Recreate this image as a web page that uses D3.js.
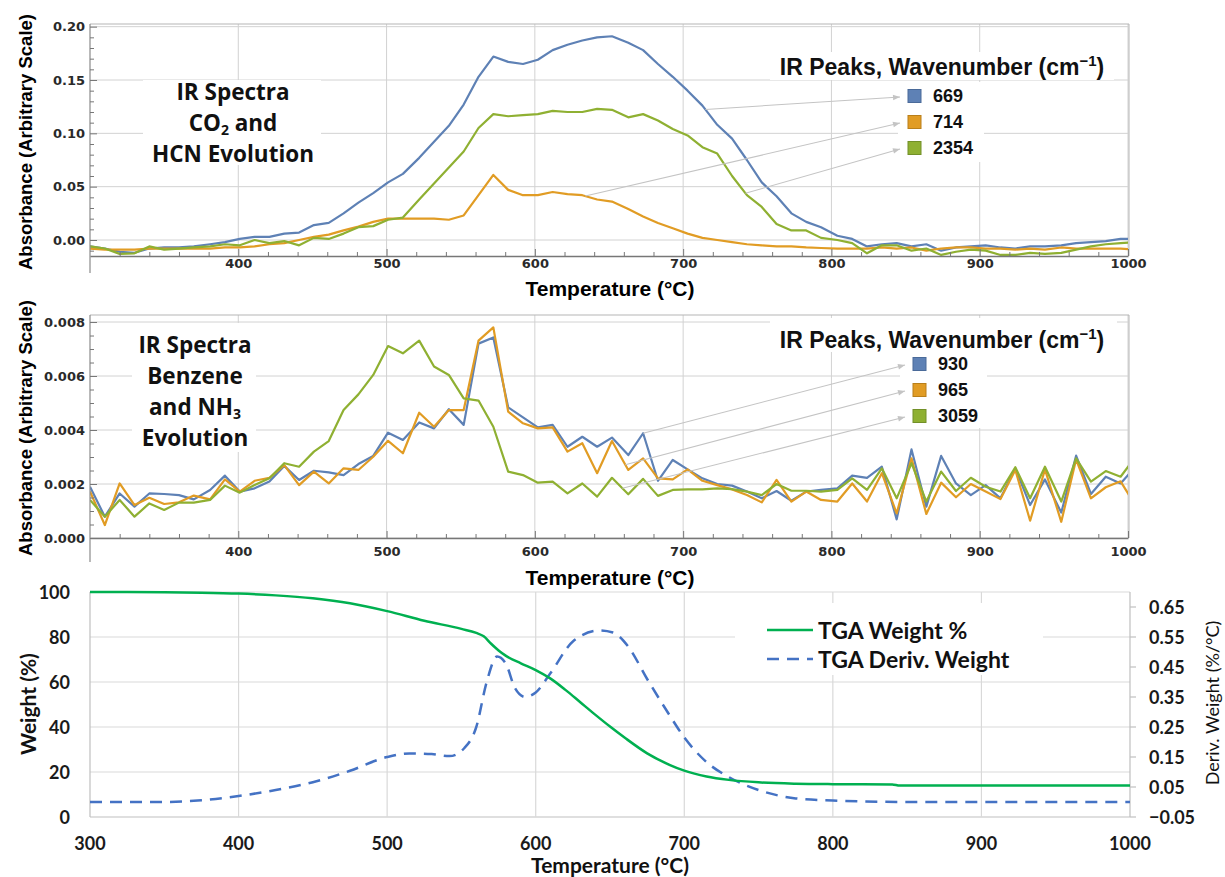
<!DOCTYPE html>
<html>
<head>
<meta charset="utf-8">
<script src="https://cdn.jsdelivr.net/npm/d3@7"></script>
<style>
  body { margin: 0; background: #fff; }
  .mtick text { font-family: 'DejaVu Sans', Verdana, sans-serif; font-weight: bold; font-size: 13px; fill: #2a2a2a; }
  .mtick line, .mtick path { stroke: #777; }
</style>
</head>
<body>
<div id="vis"></div>
<script>
// ---------- data ----------
// IR sampling temperatures (°C), shared by both IR panels
const irTemps = [300,310,320,330,340,350,360,370,381,391,401,411,421,431,441,451,461,471,481,491,
  501,511,522,532,542,552,562,572,582,592,602,612,622,632,642,652,663,673,683,693,
  703,713,723,733,743,753,763,773,783,793,804,814,824,834,844,854,864,874,884,894,
  904,914,924,934,944,955,965,975,985,995,1005];

// CO2 / HCN panel, absorbance
const ir669 = [-0.006,-0.008,-0.011,-0.012,-0.008,-0.007,-0.007,-0.006,-0.004,-0.002,
  0.001,0.003,0.003,0.006,0.007,0.014,0.016,0.025,0.035,0.044,
  0.054,0.062,0.077,0.092,0.107,0.127,0.153,0.172,0.167,0.165,
  0.169,0.178,0.183,0.187,0.190,0.191,0.185,0.178,0.165,0.153,
  0.140,0.126,0.108,0.095,0.075,0.054,0.041,0.025,0.017,0.012,
  0.004,0.001,-0.006,-0.004,-0.003,-0.006,-0.004,-0.010,-0.007,-0.006,
  -0.005,-0.007,-0.008,-0.006,-0.006,-0.005,-0.003,-0.002,-0.001,0.001,0.001];
const ir714 = [-0.008,-0.009,-0.009,-0.009,-0.008,-0.008,-0.008,-0.008,-0.008,-0.007,
  -0.007,-0.006,-0.004,-0.003,0.000,0.003,0.005,0.009,0.0125,0.017,
  0.020,0.020,0.020,0.020,0.019,0.023,0.042,0.061,0.047,0.042,
  0.042,0.045,0.043,0.042,0.038,0.036,0.029,0.022,0.016,0.011,
  0.006,0.002,0.000,-0.002,-0.004,-0.005,-0.006,-0.006,-0.007,-0.0075,
  -0.008,-0.008,-0.008,-0.007,-0.008,-0.007,-0.010,-0.008,-0.007,-0.007,
  -0.008,-0.008,-0.009,-0.008,-0.009,-0.007,-0.008,-0.008,-0.008,-0.008,-0.009];
const ir2354 = [-0.006,-0.008,-0.013,-0.0125,-0.006,-0.009,-0.008,-0.007,-0.006,-0.004,
  -0.005,0.000,-0.003,-0.001,-0.005,0.002,0.001,0.006,0.012,0.013,
  0.019,0.021,0.038,0.053,0.068,0.083,0.105,0.118,0.116,0.117,
  0.118,0.121,0.120,0.120,0.123,0.122,0.115,0.118,0.112,0.104,
  0.098,0.087,0.081,0.060,0.042,0.031,0.015,0.009,0.009,0.002,
  0.000,-0.003,-0.0125,-0.005,-0.005,-0.010,-0.008,-0.014,-0.011,-0.009,
  -0.010,-0.014,-0.014,-0.012,-0.013,-0.012,-0.009,-0.006,-0.004,-0.003,-0.002];

// Benzene / NH3 panel, absorbance
const ir930 = [0.00190,0.00079,0.00165,0.00116,0.00165,0.00163,0.00159,0.00143,0.00178,0.00231,
  0.00172,0.00184,0.00209,0.00267,0.00215,0.00249,0.00243,0.00233,0.00274,0.00304,
  0.00390,0.00363,0.00428,0.00406,0.00477,0.00419,0.00720,0.00743,0.00484,0.00447,
  0.00410,0.00419,0.00338,0.00375,0.00338,0.00372,0.00307,0.00388,0.00212,0.00289,
  0.00254,0.00221,0.00200,0.00194,0.00172,0.00147,0.00174,0.00138,0.00172,0.00178,
  0.00184,0.00231,0.00223,0.00264,0.00069,0.00328,0.00116,0.00304,0.00202,0.00159,
  0.00196,0.00147,0.00258,0.00122,0.00217,0.00094,0.00305,0.00163,0.00227,0.00202,0.00264];
const ir965 = [0.00172,0.00048,0.00202,0.00122,0.00149,0.00126,0.00132,0.00157,0.00143,0.00217,
  0.00172,0.00212,0.00223,0.00270,0.00196,0.00246,0.00202,0.00258,0.00252,0.00301,
  0.00360,0.00314,0.00464,0.00412,0.00474,0.00474,0.00731,0.00780,0.00468,0.00425,
  0.00406,0.00410,0.00320,0.00351,0.00240,0.00359,0.00252,0.00295,0.00221,0.00217,
  0.00254,0.00212,0.00196,0.00180,0.00159,0.00132,0.00215,0.00135,0.00172,0.00141,
  0.00135,0.00202,0.00135,0.00240,0.00091,0.00295,0.00089,0.00205,0.00151,0.00200,
  0.00172,0.00144,0.00252,0.00064,0.00254,0.00060,0.00291,0.00147,0.00188,0.00210,0.00120];
const ir3059 = [0.00141,0.00079,0.00141,0.00079,0.00128,0.00104,0.00131,0.00131,0.00141,0.00194,
  0.00168,0.00196,0.00221,0.00277,0.00264,0.00320,0.00359,0.00474,0.00532,0.00604,
  0.00711,0.00684,0.00731,0.00635,0.00604,0.00517,0.00509,0.00412,0.00246,0.00233,
  0.00205,0.00209,0.00165,0.00202,0.00153,0.00223,0.00162,0.00219,0.00156,0.00178,
  0.00180,0.00180,0.00184,0.00181,0.00172,0.00159,0.00200,0.00175,0.00175,0.00172,
  0.00178,0.00221,0.00178,0.00258,0.00147,0.00277,0.00135,0.00246,0.00174,0.00223,
  0.00190,0.00172,0.00262,0.00147,0.00264,0.00135,0.00295,0.00209,0.00248,0.00227,0.00300];

// TGA
const tgaTemps = [300,325,350,375,400,425,450,475,500,525,550,560,565,570,575,580,590,600,610,620,
  630,640,650,660,675,690,700,715,730,750,775,800,840,845,900,1000];
const tgaWeight = [100,100,99.9,99.7,99.3,98.5,97.2,95.0,91.5,87.2,83.6,81.8,80.3,77.0,74.0,71.6,68.3,65.3,61.5,56.5,
  51.0,45.5,40.2,35.2,28.3,23.2,20.6,18.0,16.5,15.4,14.8,14.6,14.5,14.0,14.0,14.0];
const derivTemps = [300,350,375,400,425,450,475,500,515,530,542,552,560,567,574,580,586,593,600,610,
  625,643,652,662,675,690,700,715,730,750,775,800,850,1000];
const derivWeight = [0.0,0.0,0.006,0.02,0.04,0.066,0.104,0.15,0.162,0.16,0.153,0.18,0.25,0.40,0.485,0.46,0.38,0.35,0.365,0.43,
  0.535,0.572,0.565,0.52,0.41,0.29,0.215,0.133,0.083,0.04,0.012,0.005,0.0,0.0];

// ticks / labels
const tempTicks = [300,400,500,600,700,800,900,1000];
const tempMinor = d3.range(320, 1000, 20).filter(d => d % 100 !== 0);
const co2Ticks = [0, 0.05, 0.10, 0.15, 0.20];
const co2Minor = [-0.01,0.01,0.02,0.03,0.04,0.06,0.07,0.08,0.09,0.11,0.12,0.13,0.14,0.16,0.17,0.18,0.19];
const bzTicks = [0, 0.002, 0.004, 0.006, 0.008];
const bzMinor = [0.0005,0.001,0.0015,0.0025,0.003,0.0035,0.0045,0.005,0.0055,0.0065,0.007,0.0075];
const weightTicks = [0,20,40,60,80,100];
const derivTicks = [-0.05,0.05,0.15,0.25,0.35,0.45,0.55,0.65];
const co2Peaks = ["669","714","2354"];
const bzPeaks = ["930","965","3059"];
const irColors = ["#5e81b5","#e19c24","#8fb032"];
const irEdge = ["#4a6a99","#b97f1a","#729028"];

// ---------- drawing ----------
const svg = d3.select("#vis").append("svg")
  .attr("width", 1225).attr("height", 877);

const defs = svg.append("defs");
defs.append("marker").attr("id", "arr")
  .attr("viewBox", "0 0 10 10").attr("refX", 10).attr("refY", 5)
  .attr("markerWidth", 9).attr("markerHeight", 7).attr("orient", "auto")
  .attr("markerUnits", "userSpaceOnUse")
  .append("path").attr("d", "M0,1L10,5L0,9Z").attr("fill", "#c4c4c4");

const MF = "'Liberation Sans', Arial, sans-serif";
const OF = "'Open Sans', sans-serif";
const LF = "Lato, Calibri, sans-serif";

function interp(temps, vals, t) {
  let i = d3.bisectRight(temps, t) - 1;
  i = Math.max(0, Math.min(temps.length - 2, i));
  const f = (t - temps[i]) / (temps[i+1] - temps[i]);
  return vals[i] + f * (vals[i+1] - vals[i]);
}

function irPanel(p) {
  const g = svg.append("g");
  const x = d3.scaleLinear().domain([300, 1000]).range([90, 1128]);
  const y = d3.scaleLinear().domain(p.yDomain).range([p.axisY, p.top]);

  // grid
  g.selectAll(".vg").data(tempTicks.slice(1)).enter().append("line")
    .attr("x1", d => x(d)).attr("x2", d => x(d))
    .attr("y1", p.top).attr("y2", p.axisY)
    .attr("stroke", "#d2d2d2");
  g.selectAll(".hg").data(p.yTicks).enter().append("line")
    .attr("x1", 90).attr("x2", 1128)
    .attr("y1", d => y(d)).attr("y2", d => y(d))
    .attr("stroke", "#d2d2d2");

  // white backgrounds behind labels
  p.boxes.forEach(b => g.append("rect")
    .attr("x", b[0]).attr("y", b[1]).attr("width", b[2]).attr("height", b[3])
    .attr("fill", "#fff"));

  // series
  const clipId = "clip" + p.id;
  defs.append("clipPath").attr("id", clipId).append("rect")
    .attr("x", 90).attr("y", p.top).attr("width", 1038).attr("height", p.axisY - p.top);
  const line = d3.line().x((d, i) => x(irTemps[i])).y(d => y(d));
  p.series.forEach((s, k) => {
    g.append("path").datum(s)
      .attr("d", line)
      .attr("fill", "none")
      .attr("stroke", irColors[k])
      .attr("stroke-width", 2.2)
      .attr("stroke-linejoin", "round")
      .attr("clip-path", `url(#${clipId})`);
  });

  // frame
  g.append("line").attr("x1", 90).attr("x2", 1129).attr("y1", p.top).attr("y2", p.top).attr("stroke", "#b5b5b5");
  g.append("line").attr("x1", 1129).attr("x2", 1129).attr("y1", p.top).attr("y2", p.axisY).attr("stroke", "#b5b5b5");
  g.append("line").attr("x1", 90).attr("x2", 90).attr("y1", p.top).attr("y2", p.frameBottom).attr("stroke", "#8a8a8a").attr("stroke-width", 1.2);

  // x axis (major + minor ticks, pointing inward)
  const xa = g.append("g").attr("class", "mtick").attr("transform", `translate(0,${p.axisY})`)
    .call(d3.axisBottom(x).tickValues(tempTicks.slice(1)).tickSize(-7).tickSizeOuter(0)
      .tickPadding(p.xPad).tickFormat(d3.format("d")));
  xa.select(".domain").attr("stroke", "#666").attr("stroke-width", 1.3);
  g.append("g").attr("class", "mtick").attr("transform", `translate(0,${p.axisY})`)
    .call(d3.axisBottom(x).tickValues(tempMinor).tickSize(-4).tickFormat(""))
    .select(".domain").remove();

  // y axis
  g.append("g").attr("class", "mtick").attr("transform", "translate(90,0)")
    .call(d3.axisLeft(y).tickValues(p.yTicks).tickSize(-7).tickSizeOuter(0)
      .tickPadding(5).tickFormat(p.fmt))
    .select(".domain").remove();
  g.append("g").attr("class", "mtick").attr("transform", "translate(90,0)")
    .call(d3.axisLeft(y).tickValues(p.yMinor).tickSize(-4).tickFormat(""))
    .select(".domain").remove();

  // axis titles
  g.append("text").attr("x", 610).attr("y", p.xTitleY)
    .attr("text-anchor", "middle").attr("dominant-baseline", "central")
    .style("font-family", MF).style("font-weight", "bold").style("font-size", "21px")
    .text("Temperature (°C)");
  g.append("text")
    .attr("transform", `translate(25,${p.yTitleY}) rotate(-90)`)
    .attr("text-anchor", "middle").attr("dominant-baseline", "central")
    .style("font-family", MF).style("font-weight", "bold").style("font-size", "18.5px")
    .text("Absorbance (Arbitrary Scale)");

  // annotation: one text per line; objects in a line are subscripts
  p.annot.forEach((ln, i) => {
    const t = g.append("text").attr("text-anchor", "middle")
      .attr("x", p.annX).attr("y", p.annY + i * p.annStep)
      .style("font-family", OF).style("font-weight", "bold").style("font-size", "22.5px").attr("fill", "#111");
    let shifted = false;
    ln.forEach(part => {
      if (typeof part === "string") {
        t.append("tspan").attr("dy", shifted ? -4 : null).text(part);
        shifted = false;
      } else {
        t.append("tspan").attr("dy", 4).style("font-size", "14px").text(part.low);
        shifted = true;
      }
    });
  });

  // legend title
  const lt = g.append("text").attr("x", 942).attr("y", p.legTitleY + 8)
    .attr("text-anchor", "middle")
    .style("font-family", MF).style("font-weight", "bold").style("font-size", "23px").attr("fill", "#111");
  lt.append("tspan").text("IR Peaks, Wavenumber (cm");
  lt.append("tspan").attr("dy", -9).style("font-size", "15px").text("−1");
  lt.append("tspan").attr("dy", 9).text(")");

  // legend items + arrows
  p.peaks.forEach((lab, k) => {
    const cy = p.legY[k];
    const ax = p.anchors[k];
    const av = interp(irTemps, p.series[k], ax);
    g.append("line")
      .attr("x1", x(ax)).attr("y1", y(av))
      .attr("x2", p.sqX - 8).attr("y2", cy + 1)
      .attr("stroke", "#c4c4c4").attr("stroke-width", 1.1)
      .attr("marker-end", "url(#arr)");
    g.append("rect").attr("x", p.sqX).attr("y", cy - 6.5).attr("width", 13).attr("height", 13)
      .attr("fill", irColors[k]).attr("stroke", irEdge[k]).attr("stroke-width", 1);
    g.append("text").attr("x", p.sqX + 25).attr("y", cy).attr("dominant-baseline", "central")
      .style("font-family", MF).style("font-weight", "bold").style("font-size", "18px").attr("fill", "#111")
      .text(lab);
  });
}

irPanel({
  id: "a", top: 24, axisY: 256, frameBottom: 273, yDomain: [-0.015, 0.2025],
  yTicks: co2Ticks, yMinor: co2Minor, fmt: d3.format(".2f"),
  series: [ir669, ir714, ir2354], peaks: co2Peaks,
  xPad: 3, xTitleY: 288, yTitleY: 142,
  boxes: [[143, 80, 178, 85], [770, 52, 344, 28], [898, 82, 86, 80]],
  annot: [["IR Spectra"], ["CO", {low: "2"}, " and"], ["HCN Evolution"]],
  annX: 233, annY: 100, annStep: 31,
  legTitleY: 67, legY: [96, 122, 148], sqX: 908,
  anchors: [715, 634, 742]
});

irPanel({
  id: "b", top: 315, axisY: 538, frameBottom: 562, yDomain: [0, 0.00826],
  yTicks: bzTicks, yMinor: bzMinor, fmt: d3.format(".3f"),
  series: [ir930, ir965, ir3059], peaks: bzPeaks,
  xPad: 9, xTitleY: 577, yTitleY: 428,
  boxes: [[132, 323, 124, 129], [770, 318, 347, 34], [900, 352, 87, 76]],
  annot: [["IR Spectra"], ["Benzene"], ["and NH", {low: "3"}], ["Evolution"]],
  annX: 195, annY: 353, annStep: 31,
  legTitleY: 340, legY: [364, 390, 416], sqX: 913,
  anchors: [673, 661, 659]
});

// ---------- TGA panel ----------
const gb = svg.append("g");
const xb = d3.scaleLinear().domain([300, 1000]).range([90, 1130]);
const yw = d3.scaleLinear().domain([0, 100]).range([817, 592]);
const yd = d3.scaleLinear().domain([-0.05, 0.7]).range([817, 592]);

gb.selectAll(".hg").data(weightTicks).enter().append("line")
  .attr("x1", 90).attr("x2", 1130).attr("y1", d => yw(d)).attr("y2", d => yw(d))
  .attr("stroke", d => d === 0 ? "#bfbfbf" : "#d9d9d9").attr("stroke-width", 1.2);
gb.selectAll(".vg").data(tempTicks).enter().append("line")
  .attr("x1", d => xb(d)).attr("x2", d => xb(d)).attr("y1", 592).attr("y2", 817)
  .attr("stroke", d => (d === 300 || d === 1000) ? "#bfbfbf" : "#d9d9d9").attr("stroke-width", 1.2);

// legend box
gb.append("rect").attr("x", 735).attr("y", 603).attr("width", 308).attr("height", 72).attr("fill", "#fff");

// right axis ticks
gb.selectAll(".rt").data(derivTicks).enter().append("line")
  .attr("x1", 1130).attr("x2", 1136).attr("y1", d => yd(d)).attr("y2", d => yd(d))
  .attr("stroke", "#bfbfbf").attr("stroke-width", 1.2);

const wLine = d3.line().x((d, i) => xb(tgaTemps[i])).y(d => yw(d)).curve(d3.curveMonotoneX);
const dLine = d3.line().x((d, i) => xb(derivTemps[i])).y(d => yd(d)).curve(d3.curveMonotoneX);
gb.append("path").datum(derivWeight).attr("d", dLine)
  .attr("fill", "none").attr("stroke", "#4472c4").attr("stroke-width", 2.5)
  .attr("stroke-dasharray", "12,8");
gb.append("path").datum(tgaWeight).attr("d", wLine)
  .attr("fill", "none").attr("stroke", "#00b050").attr("stroke-width", 2.5);

// tick labels
gb.selectAll(".xl").data(tempTicks).enter().append("text")
  .attr("x", d => xb(d)).attr("y", 843).attr("text-anchor", "middle").attr("dominant-baseline", "central")
  .style("font-family", LF).style("font-weight", "bold").style("font-size", "18px").attr("fill", "#1a1a1a")
  .text(d => d);
gb.selectAll(".yl").data(weightTicks).enter().append("text")
  .attr("x", 70).attr("y", d => yw(d)).attr("text-anchor", "end").attr("dominant-baseline", "central")
  .style("font-family", LF).style("font-weight", "bold").style("font-size", "18px").attr("fill", "#1a1a1a")
  .text(d => d);
gb.selectAll(".rl").data(derivTicks).enter().append("text")
  .attr("x", 1149).attr("y", d => yd(d)).attr("dominant-baseline", "central")
  .style("font-family", LF).style("font-weight", "bold").style("font-size", "18px").attr("fill", "#1a1a1a")
  .text(d => d3.format(".2f")(d));

// axis titles
gb.append("text").attr("x", 610).attr("y", 864).attr("text-anchor", "middle").attr("dominant-baseline", "central")
  .style("font-family", LF).style("font-weight", "bold").style("font-size", "21px").attr("fill", "#111")
  .text("Temperature (°C)");
gb.append("text").attr("transform", "translate(27,704) rotate(-90)")
  .attr("text-anchor", "middle").attr("dominant-baseline", "central")
  .style("font-family", LF).style("font-weight", "bold").style("font-size", "21px").attr("fill", "#111")
  .text("Weight (%)");
gb.append("text").attr("transform", "translate(1212,703) rotate(-90)")
  .attr("text-anchor", "middle").attr("dominant-baseline", "central")
  .style("font-family", LF).style("font-size", "18px").attr("fill", "#111")
  .text("Deriv. Weight (%/°C)");

// legend
const tgaLegend = [
  {label: "TGA Weight %", color: "#00b050", dash: null, y: 630},
  {label: "TGA Deriv. Weight", color: "#4472c4", dash: "12,8", y: 659}
];
tgaLegend.forEach(l => {
  gb.append("line").attr("x1", 767).attr("x2", 813).attr("y1", l.y).attr("y2", l.y)
    .attr("stroke", l.color).attr("stroke-width", 2.5)
    .attr("stroke-dasharray", l.dash);
  gb.append("text").attr("x", 818).attr("y", l.y).attr("dominant-baseline", "central")
    .style("font-family", LF).style("font-weight", "bold").style("font-size", "23px").attr("fill", "#111")
    .text(l.label);
});
</script>
</body>
</html>
